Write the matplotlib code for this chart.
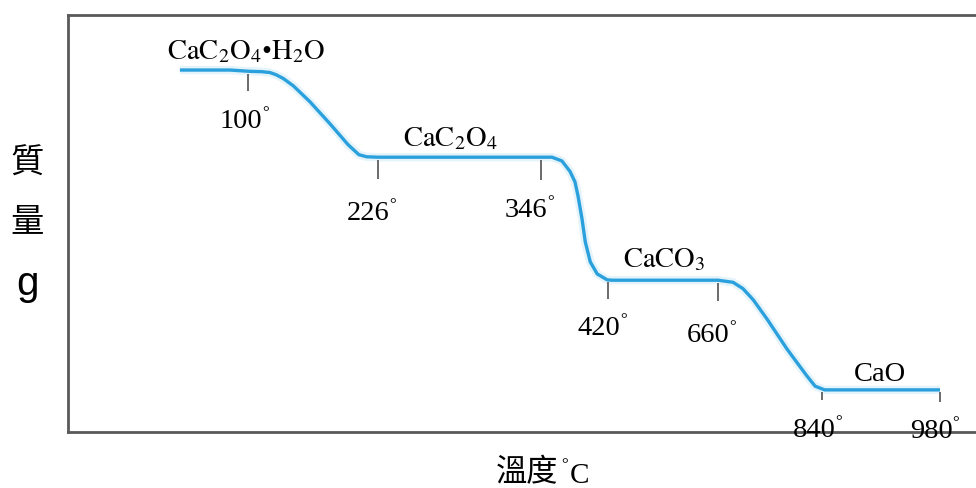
import numpy as np
import matplotlib
matplotlib.use("Agg")
import matplotlib.pyplot as plt

# ---------------- data ----------------
# temperature (deg C) and mass (arbitrary units, schematic TGA curve)
temps = [34, 82.6, 101, 113.6, 121.3, 127, 134, 144, 160, 179.5, 197, 207.5, 215,
         226, 346, 358.1, 369.1, 378, 383.5, 386.9, 391.3, 394.9, 400.4, 408.1,
         419, 428.7, 660, 686, 703, 721, 744.8, 779.4, 813, 828, 843, 980]
mass = [86.8, 86.8, 86.5, 86.4, 86.2, 85.7, 84.8, 83.0, 79.2, 73.9, 68.9, 66.5, 66.0,
        65.9, 65.9, 65.9, 65.0, 62.5, 60.0, 56.6, 51.1, 45.6, 40.8, 37.9,
        36.5, 36.4, 36.4, 35.9, 34.4, 31.7, 27.1, 19.9, 13.6, 11.0, 10.1, 10.1]

tick_temps = [100, 226, 346, 420, 660, 840, 980]
tick_labels = ["100", "226", "346", "420", "660", "840", "980"]

phase_labels = [r"$\mathrm{CaC_2O_4}$•$\mathrm{H_2O}$",
                r"$\mathrm{CaC_2O_4}$",
                r"$\mathrm{CaCO_3}$",
                "CaO"]
phase_temps = [98, 279, 542, 909]
phase_mass = [89.7, 68.8, 39.8, 12.5]

# ---------------- layout / style ----------------
scale_pos = np.array([248, 378, 541, 608, 718, 822, 940], float)  # schematic axis positions
anchor_T = np.array(tick_temps, float)
s0 = (scale_pos[1] - scale_pos[0]) / (anchor_T[1] - anchor_T[0])
s1 = (scale_pos[-1] - scale_pos[-2]) / (anchor_T[-1] - anchor_T[-2])


def fwd(t):
    t = np.asarray(t, float)
    p = np.interp(t, anchor_T, scale_pos)
    p = np.where(t < anchor_T[0], scale_pos[0] + (t - anchor_T[0]) * s0, p)
    p = np.where(t > anchor_T[-1], scale_pos[-1] + (t - anchor_T[-1]) * s1, p)
    return p


def inv(p):
    p = np.asarray(p, float)
    t = np.interp(p, scale_pos, anchor_T)
    t = np.where(p < scale_pos[0], anchor_T[0] + (p - scale_pos[0]) / s0, t)
    t = np.where(p > scale_pos[-1], anchor_T[-1] + (p - scale_pos[-1]) / s1, t)
    return t


plt.rcParams["mathtext.fontset"] = "stix"

W, H = 976, 489
fig = plt.figure(figsize=(W / 100, H / 100), dpi=100)
left_px, right_px, top_px, bot_px = 68, 1000, 16, 433
ax = fig.add_axes([left_px / W, 1 - bot_px / H, (right_px - left_px) / W, (bot_px - top_px) / H])
ax.set_xscale("function", functions=(fwd, inv))
ax.set_xlim(float(inv(left_px)), float(inv(right_px)))
ax.set_ylim(0, 100)
ax.set_xticks([])
ax.set_yticks([])
for side in ["left", "top", "bottom"]:
    ax.spines[side].set_color("#5a5a5a")
    ax.spines[side].set_linewidth(2.0)
ax.spines["right"].set_visible(False)

blue = "#2aa0dc"
ax.plot(temps, mass, color=blue, lw=6, alpha=0.12, solid_capstyle="butt")
ax.plot(temps, mass, color=blue, lw=2.4, solid_capstyle="butt", solid_joinstyle="round")

# small vertical markers below the curve
tick_len = [4.8, 5.3, 5.4, 4.6, 5.0, 2.7, 2.9]
lvl = np.interp(tick_temps, temps, mass)
ax.vlines(tick_temps, lvl - np.array(tick_len), lvl - 0.6, color="#6a6a6a", lw=1.4)

# temperature labels (offsets in pixels from curve point: left edge, baseline)
lab_dx = [-28, -31, -36, -30, -31, -29, -30]
lab_dy = [56, 62, 59, 54, 61, 47, 47]
for T, lv, lbl, dx, dy in zip(tick_temps, lvl, tick_labels, lab_dx, lab_dy):
    ax.annotate(lbl, xy=(T, lv), xytext=(dx, -dy), textcoords="offset pixels",
                ha="left", va="baseline", fontsize=20.5, family="Liberation Serif",
                annotation_clip=False)
    # small raised degree sign right after the digits
    ax.annotate("°", xy=(T, lv), xytext=(dx + 42, -dy + 11), textcoords="offset pixels",
                ha="left", va="baseline", fontsize=12, family="Liberation Serif",
                annotation_clip=False)

for lbl, T, m in zip(phase_labels, phase_temps, phase_mass):
    ax.text(T, m, lbl, ha="center", va="baseline", fontsize=20.5, family="Liberation Serif")

# axis titles
fig.text(27 / W, 1 - 163 / H, "質", ha="center", va="center", fontsize=24,
         family="Noto Sans CJK TC")
fig.text(27 / W, 1 - 222 / H, "量", ha="center", va="center", fontsize=24,
         family="Noto Sans CJK TC")
fig.text(28 / W, 1 - 295 / H, "g", ha="center", va="baseline", fontsize=29,
         family="Liberation Sans")
fig.text(527 / W, 1 - 472 / H, "溫度", ha="center", va="center", fontsize=22.5,
         family="Noto Sans CJK TC")
fig.text(561 / W, 1 - 469 / H, "°", ha="left", va="baseline", fontsize=12,
         family="Liberation Serif")
fig.text(570 / W, 1 - 483 / H, "C", ha="left", va="baseline", fontsize=21,
         family="Liberation Serif")

fig.savefig("out.png", dpi=100)
